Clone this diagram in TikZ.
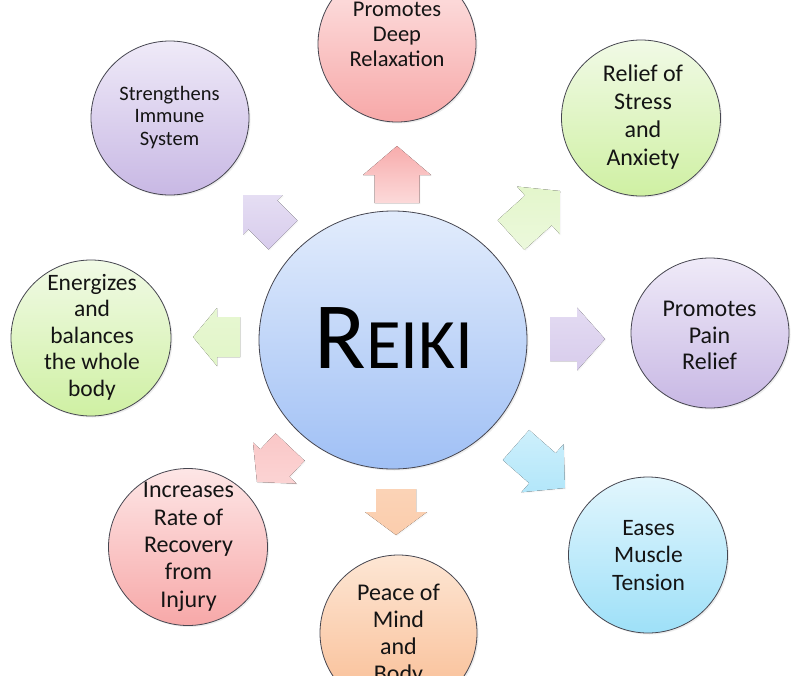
\documentclass[tikz,border=0pt]{standalone}
\usepackage{fontspec}
\setmainfont{Carlito}
\usetikzlibrary{calc,shapes.geometric,shadows}
\definecolor{pinkT}{RGB}{253,230,230}\definecolor{pinkB}{RGB}{247,168,168}
\definecolor{grnT}{RGB}{241,250,230}\definecolor{grnB}{RGB}{207,240,163}
\definecolor{purT}{RGB}{239,234,248}\definecolor{purB}{RGB}{200,184,228}
\definecolor{cyaT}{RGB}{226,246,253}\definecolor{cyaB}{RGB}{158,224,248}
\definecolor{oraT}{RGB}{253,230,212}\definecolor{oraB}{RGB}{249,188,146}
\definecolor{bluT}{RGB}{226,236,252}\definecolor{bluB}{RGB}{160,192,245}
\definecolor{rimc}{RGB}{70,70,80}
\definecolor{txtc}{RGB}{20,20,20}
\newcommand\radarrow[6]{%
  \coordinate (hb) at ($(#2)!#3!(#1)$);
  \fill[#6] ($(#1)!#5!90:(#2)$) -- ($(hb)!#5!90:(#2)$) -- ($(hb)!#4!90:(#2)$) -- (#2)
    -- ($(hb)!#4!-90:(#2)$) -- ($(hb)!#5!-90:(#2)$) -- ($(#1)!#5!-90:(#2)$) -- cycle;
}
\tikzset{
  bub/.style={ellipse, draw=rimc, line width=0.8pt, inner sep=0pt,
    drop shadow={shadow xshift=1.5pt, shadow yshift=-1.5pt, opacity=0.15}},
  lbl/.style={align=center, text=txtc, inner sep=0pt},
  arr/.style={drop shadow={shadow xshift=1.2pt, shadow yshift=-1.2pt, opacity=0.06}},
}
\begin{document}
\begin{tikzpicture}[x=1pt,y=-1pt]
\useasboundingbox[fill=white] (0,0) rectangle (800,675);
% arrow end points
\coordinate (a1s) at (397,203); \coordinate (a1e) at (397,146);
\coordinate (a2s) at (511,235); \coordinate (a2e) at (560,191);
\coordinate (a3s) at (550,339); \coordinate (a3e) at (605,339);
\coordinate (a4s) at (516,445); \coordinate (a4e) at (565,488);
\coordinate (a5s) at (396,489); \coordinate (a5e) at (396,535);
\coordinate (a6s) at (290,447); \coordinate (a6e) at (257,482);
\coordinate (a7s) at (240,337); \coordinate (a7e) at (193,337);
\coordinate (a8s) at (283,235); \coordinate (a8e) at (243,195);
\radarrow{a1s}{a1e}{29pt}{34pt}{22.5pt}{arr, top color=pinkB!95!white, bottom color=pinkT!80!pinkB}
\radarrow{a2s}{a2e}{29pt}{32pt}{20pt}{arr, top color=grnT!60!grnB, bottom color=grnT!85!grnB}
\radarrow{a3s}{a3e}{28pt}{31.5pt}{22pt}{arr, top color=purT!70!purB, bottom color=purT!40!purB}
\radarrow{a4s}{a4e}{30pt}{32pt}{20pt}{arr, top color=cyaT!70!cyaB, bottom color=cyaT!30!cyaB}
\radarrow{a5s}{a5e}{23pt}{31pt}{20pt}{arr, top color=oraT!55!oraB, bottom color=oraT!40!oraB}
\radarrow{a6s}{a6e}{26pt}{30pt}{20pt}{arr, top color=pinkT!50!pinkB, bottom color=pinkT!70!pinkB}
\radarrow{a7s}{a7e}{24pt}{29pt}{20pt}{arr, top color=grnT!70!grnB, bottom color=grnT!55!grnB}
\radarrow{a8s}{a8e}{28pt}{28pt}{20.5pt}{arr, top color=purT!75!purB, bottom color=purT!40!purB}
% central circle
\node[bub, top color=bluT, bottom color=bluB, minimum width=268pt, minimum height=258pt] (ctr) at (393,340) {};
\node[anchor=base, text=black, inner sep=0pt] (reiki) at (394,368) {\fontsize{95}{100}\selectfont R\fontsize{71}{80}\selectfont EIKI};
% satellites
\node[bub, top color=pinkT, bottom color=pinkB, minimum width=158pt, minimum height=156pt] (c1) at (397,44) {};
\node[bub, top color=grnT, bottom color=grnB, minimum width=159pt, minimum height=156pt] (c2) at (641,118) {};
\node[bub, top color=purT, bottom color=purB, minimum width=158pt, minimum height=150pt] (c3) at (710,333) {};
\node[bub, top color=cyaT, bottom color=cyaB, minimum width=159pt, minimum height=156pt] (c4) at (648,555) {};
\node[bub, top color=oraT, bottom color=oraB, minimum width=157pt, minimum height=156pt] (c5) at (398.5,633) {};
\node[bub, top color=pinkT, bottom color=pinkB, minimum width=159pt, minimum height=157pt] (c6) at (188,547) {};
\node[bub, top color=grnT, bottom color=grnB, minimum width=160pt, minimum height=156pt] (c7) at (91,338) {};
\node[bub, top color=purT, bottom color=purB, minimum width=158pt, minimum height=154pt] (c8) at (170,118) {};
% labels
\node[lbl, font=\fontsize{22.5}{25}\selectfont] (t1) at (397,36.7) {\strut Promotes\\Deep\\Relaxation\strut};
\node[lbl, font=\fontsize{24}{27.7}\selectfont] (t2) at (643,118) {\strut Relief of\\Stress\\and\\Anxiety\strut};
\node[lbl, font=\fontsize{24}{26.5}\selectfont] (t3) at (709.5,338) {\strut Promotes\\Pain\\Relief\strut};
\node[lbl, font=\fontsize{23.5}{27.5}\selectfont] (t4) at (648.5,557) {\strut Eases\\Muscle\\Tension\strut};
\node[lbl, font=\fontsize{24}{27.3}\selectfont] (t5) at (398.5,635.5) {\strut Peace of\\Mind\\and\\Body\strut};
\node[lbl, font=\fontsize{24}{27.3}\selectfont] (t6) at (188.5,547) {\strut Increases\\Rate of\\Recovery\\from\\Injury\strut};
\node[lbl, font=\fontsize{23.5}{26.5}\selectfont] (t7) at (92,337.7) {\strut Energizes\\and\\balances\\the whole\\body\strut};
\node[lbl, font=\fontsize{20.5}{22.5}\selectfont] (t8) at (169.5,118) {\strut Strengthens\\Immune\\System\strut};
\end{tikzpicture}
\end{document}
